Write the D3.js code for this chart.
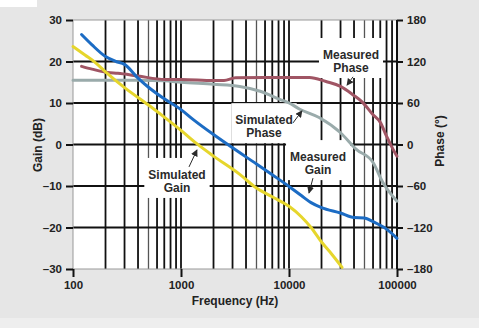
<!DOCTYPE html>
<html><head><meta charset="utf-8">
<script src="https://cdn.jsdelivr.net/npm/d3@7"></script>
<style>body{margin:0;background:#e6e6e6}svg{display:block}</style>
</head><body><svg id="c" width="479" height="328"></svg>
<script>
// ---- data ----
const freqTickLabels = [100, 1000, 10000, 100000];
const gainTicks = [-30, -20, -10, 0, 10, 20, 30];
const phaseTicks = [-180, -120, -60, 0, 60, 120, 180];

const measGainF = [120,150,200,250,300,400,500,700,1000,1300,2000,3000,5000,7000,10000,13000,16000,20000,30000,40000,50000,60000,80000,100000];
const measGainV = [26.5,24,21.2,20,19.3,16,13.8,11,8.4,6,2.4,-0.8,-4.7,-7.3,-10.1,-12.3,-14,-15.2,-16.5,-17.6,-17.7,-18.6,-20.4,-22.6];

const simGainF = [100,130,160,200,300,500,700,1000,1400,2000,3500,5000,7000,10000,13000,16000,20000,25000,31000];
const simGainV = [23.6,21.5,19.8,17.5,13.7,9.5,6.6,3.4,0.2,-2.8,-7.2,-10.5,-12.6,-14.9,-17.4,-20,-23.5,-26.5,-29.6];

const measPhaseF = [120,150,210,260,400,710,1000,2000,2500,3200,6000,10000,15500,22000,30000,39000,48000,60000,70000,80000,92000,100000];
const measPhaseV = [113,109,104,103,99,94,94,92.5,92.5,96.5,97,97,97,91,84,72,61,43,32,12,-7,-17];

const simPhaseF = [100,200,400,700,1000,2000,3500,5400,8300,10000,12600,19000,30000,42000,60000,74000,100000];
const simPhaseV = [93,93,93,92,90,87,84,77,65,60,51,39,17,-7,-26,-55,-82];

const labels = [
  {lines:["Measured","Phase"], f:37500, g:20.6, from:[39150,16.3], to:[34440,14.3]},
  {lines:["Simulated","Phase"], f:5875, g:4.9, from:[10890,5.2], to:[13180,8.1]},
  {lines:["Measured","Gain"], f:18580, g:-4.0, from:[16670,-8.1], to:[15310,-11.7]},
  {lines:["Simulated","Gain"], f:918, g:-8.3, from:[1186,-5.4], to:[1406,-1.3]}
];

// ---- layout ----
const L = 73, R = 397, T = 20, B = 269;
const svg = d3.select("#c");
const x = d3.scaleLog().domain([100, 100000]).range([L, R]);
const y = d3.scaleLinear().domain([-30, 30]).range([B, T]);
const yp = d3.scaleLinear().domain([-180, 180]).range([B, T]);

svg.append("rect").attr("width", 479).attr("height", 328).attr("fill", "#e6e6e6");
svg.append("rect").attr("y", 318).attr("width", 479).attr("height", 10).attr("fill", "#eeeeee");
svg.append("rect").attr("width", 37).attr("height", 7).attr("fill", "#ffffff");
svg.append("rect").attr("x", L).attr("y", T).attr("width", R - L).attr("height", B - T).attr("fill", "#fff");

// grid
const grid = svg.append("g");
grid.selectAll("line.v").data(x.ticks().filter(d => d > 100 && d < 100000)).join("line")
  .attr("x1", d => x(d)).attr("x2", d => x(d)).attr("y1", T).attr("y2", B)
  .attr("stroke", d => (String(d)[0] === "5" ? "#555" : "#111")).attr("stroke-width", d => (String(d)[0] === "5" ? 1.3 : 1.8));
grid.selectAll("line.h").data(gainTicks.filter(d => d > -30 && d < 30)).join("line")
  .attr("x1", L).attr("x2", R).attr("y1", d => y(d)).attr("y2", d => y(d))
  .attr("stroke", "#111").attr("stroke-width", 2);

// frame
svg.append("line").attr("x1", L).attr("x2", R).attr("y1", T).attr("y2", T).attr("stroke", "#999").attr("stroke-width", 1);
svg.append("line").attr("x1", L).attr("x2", R).attr("y1", B).attr("y2", B).attr("stroke", "#999").attr("stroke-width", 1);
svg.append("line").attr("x1", L).attr("x2", L).attr("y1", T).attr("y2", B).attr("stroke", "#999").attr("stroke-width", 1);
svg.append("line").attr("x1", R).attr("x2", R).attr("y1", T).attr("y2", B).attr("stroke", "#111").attr("stroke-width", 2);

const font = "'Liberation Sans', Arial, sans-serif";
const fmt = d => (d < 0 ? "\u2013" + Math.abs(d) : String(d));

// axes
const leftAxis = d3.axisLeft(y).tickValues(gainTicks).tickSize(7).tickPadding(4).tickFormat(fmt);
const ga = svg.append("g").attr("transform", `translate(${L},0)`).call(leftAxis);
const rightAxis = d3.axisRight(yp).tickValues(phaseTicks).tickSize(6).tickPadding(4).tickFormat(fmt);
const gr = svg.append("g").attr("transform", `translate(${R},0)`).call(rightAxis);
const bottomAxis = d3.axisBottom(x).tickValues(freqTickLabels).tickSize(8).tickPadding(4).tickFormat(d3.format("d"));
const gb = svg.append("g").attr("transform", `translate(0,${B})`).call(bottomAxis);
[ga, gr, gb].forEach(g => {
  g.select(".domain").remove();
  g.selectAll(".tick line").attr("stroke", "#111").attr("stroke-width", 2);
  g.selectAll(".tick text").attr("font-family", font).attr("font-weight", "bold")
    .attr("font-size", 11.5).attr("fill", "#222");
});

// axis titles
svg.append("text").attr("x", 235).attr("y", 305).attr("text-anchor", "middle")
  .attr("font-family", font).attr("font-weight", "bold").attr("font-size", 12).attr("fill", "#222")
  .text("Frequency (Hz)");
svg.append("text").attr("transform", "translate(42,145) rotate(-90)").attr("text-anchor", "middle")
  .attr("font-family", font).attr("font-weight", "bold").attr("font-size", 12).attr("fill", "#222")
  .text("Gain (dB)");
svg.append("text").attr("transform", "translate(444,141) rotate(-90)").attr("text-anchor", "middle")
  .attr("font-family", font).attr("font-weight", "bold").attr("font-size", 12).attr("fill", "#222")
  .text("Phase (°)");

// label boxes + text
const lab = svg.append("g");
labels.forEach(a => {
  const g = lab.append("g");
  const rect = g.append("rect").attr("fill", "#fff");
  const t = g.append("text").attr("text-anchor", "middle").attr("font-family", font)
    .attr("font-weight", "bold").attr("font-size", 12).attr("fill", "#2a2a2a");
  a.lines.forEach((s, i) => t.append("tspan").attr("x", x(a.f)).attr("y", y(a.g) + i * 13).text(s));
  const bb = t.node().getBBox();
  rect.attr("x", bb.x - 4).attr("y", bb.y - 10).attr("width", bb.width + 8).attr("height", bb.height + 13);
});

// curves
const line = d3.line().x(d => x(d[0])).y(d => d[1]).curve(d3.curveMonotoneX);
const series = [
  {f: simPhaseF, v: simPhaseV, s: yp, c: "#9aabab"},
  {f: measPhaseF, v: measPhaseV, s: yp, c: "#a05564"},
  {f: simGainF, v: simGainV, s: y, c: "#e6d62c"},
  {f: measGainF, v: measGainV, s: y, c: "#1c6cc4"}
];
series.forEach(sr => {
  const pts = sr.f.map((f, i) => [f, sr.s(sr.v[i])]);
  svg.append("path").attr("d", line(pts)).attr("fill", "none").attr("stroke", sr.c)
    .attr("stroke-width", 3).attr("stroke-linejoin", "round").attr("stroke-linecap", "round");
});

// arrows
svg.append("defs").append("marker").attr("id", "ah").attr("viewBox", "0 0 10 10")
  .attr("refX", 9).attr("refY", 5).attr("markerWidth", 7).attr("markerHeight", 7).attr("orient", "auto")
  .append("path").attr("d", "M0,0L10,5L0,10z").attr("fill", "#2a2a2a");
labels.forEach(a => {
  svg.append("line").attr("x1", x(a.from[0])).attr("y1", y(a.from[1]))
    .attr("x2", x(a.to[0])).attr("y2", y(a.to[1]))
    .attr("stroke", "#2a2a2a").attr("stroke-width", 1).attr("marker-end", "url(#ah)");
});
</script></body></html>
